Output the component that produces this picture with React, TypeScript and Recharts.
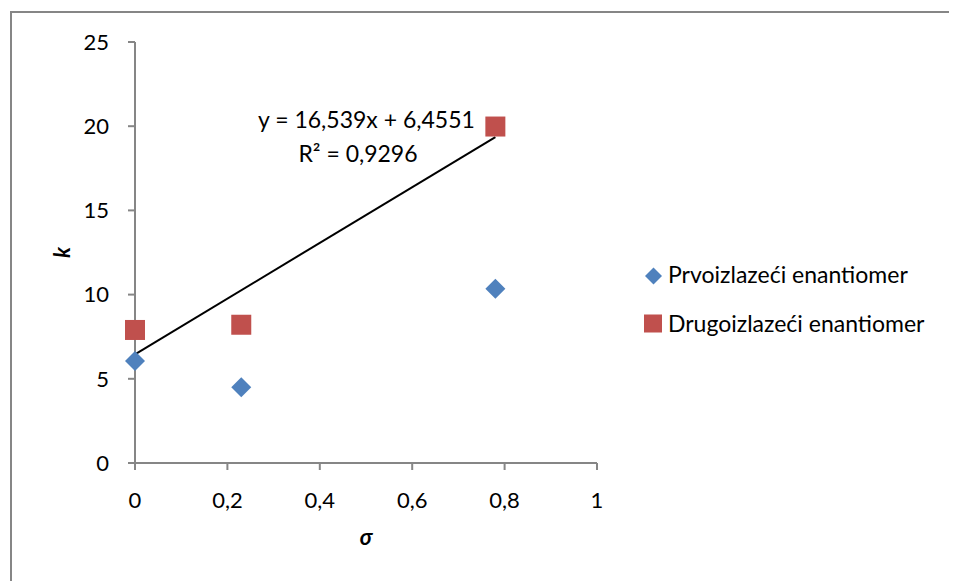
import { ScatterChart, Scatter, XAxis, YAxis, Label } from 'recharts';

const xTicks = [0, 0.2, 0.4, 0.6, 0.8, 1];
const yTicks = [0, 5, 10, 15, 20, 25];

const sigma = [0, 0.23, 0.78];
const firstK = [6.06, 4.5, 10.35];
const secondK = [7.9, 8.21, 19.98];

const slope = 16.539;
const intercept = 6.4551;
const equation = 'y = 16,539x + 6,4551';
const rSquared = 'R² = 0,9296';

const firstName = 'Prvoizlazeći enantiomer';
const secondName = 'Drugoizlazeći enantiomer';

const blue = '#4F81BD';
const red = '#C0504D';
const grey = '#868686';
const font = 'Lato, "Open Sans", sans-serif';

const firstData = sigma.map((x, i) => ({ x, y: firstK[i] }));
const secondData = sigma.map((x, i) => ({ x, y: secondK[i] }));
const trendData = [sigma[0], sigma[sigma.length - 1]].map((x) => ({ x, y: slope * x + intercept }));

const comma = (v: number) => String(v).replace('.', ',');

const Diamond = ({ cx, cy, r = 10 }: any) => (
  <polygon
    points={`${cx},${cy - r} ${cx + r},${cy} ${cx},${cy + r} ${cx - r},${cy}`}
    fill={blue}
  />
);

const Square = ({ cx, cy, r = 10 }: any) => (
  <rect x={cx - r} y={cy - r} width={r * 2} height={r * 2} fill={red} />
);

const labelStyle = { fontFamily: font, fontSize: 22, fontWeight: 700, fontStyle: 'italic', fill: '#000' };

const legendText = {
  position: 'absolute' as const,
  left: 660,
  fontFamily: font,
  fontSize: 23,
  lineHeight: '24px',
  color: '#000',
  whiteSpace: 'nowrap' as const,
};

export default function App() {
  return (
    <div style={{ position: 'relative', width: 949, height: 573, background: '#fff', overflow: 'hidden' }}>
      <div
        style={{
          position: 'absolute',
          left: 2,
          top: 3,
          width: 1000,
          height: 700,
          border: `2px solid ${grey}`,
          boxSizing: 'border-box',
        }}
      />
      <ScatterChart
        width={949}
        height={573}
        margin={{ top: 34, right: 360, bottom: 68, left: 67 }}
        style={{ position: 'absolute', left: 0, top: 0 }}
      >
        <XAxis
          type="number"
          dataKey="x"
          domain={[0, 1]}
          ticks={xTicks}
          tickFormatter={comma}
          stroke={grey}
          strokeWidth={2}
          tickSize={7}
          tickMargin={22}
          height={50}
          tick={{ fill: '#000', fontSize: 22, fontFamily: font }}
        >
          <Label value="σ" position="insideBottom" offset={-32} style={labelStyle} />
        </XAxis>
        <YAxis
          type="number"
          dataKey="y"
          domain={[0, 25]}
          ticks={yTicks}
          stroke={grey}
          strokeWidth={2}
          tickSize={7}
          tickMargin={19}
          width={60}
          tick={{ fill: '#000', fontSize: 22, fontFamily: font }}
        >
          <Label
            value="k"
            angle={-90}
            position="insideLeft"
            offset={-13}
            style={{ ...labelStyle, textAnchor: 'middle' }}
          />
        </YAxis>
        <Scatter
          name="trend"
          data={trendData}
          line={{ stroke: '#000', strokeWidth: 2 }}
          shape={() => null}
          legendType="none"
          isAnimationActive={false}
        />
        <Scatter name={firstName} data={firstData} shape={<Diamond />} isAnimationActive={false} />
        <Scatter name={secondName} data={secondData} shape={<Square />} isAnimationActive={false} />
      </ScatterChart>

      <svg width={30} height={80} style={{ position: 'absolute', left: 630, top: 255 }}>
        <Diamond cx={15.5} cy={13} r={8.5} />
        <Square cx={15} cy={60.5} r={9} />
      </svg>
      <div style={{ ...legendText, top: 254 }}>{firstName}</div>
      <div style={{ ...legendText, top: 303 }}>{secondName}</div>

      <div
        style={{
          position: 'absolute',
          left: 250,
          top: 94,
          width: 200,
          textAlign: 'center',
          fontFamily: font,
          fontSize: 23,
          lineHeight: '34px',
          color: '#000',
          whiteSpace: 'nowrap',
        }}
      >
        <div>{equation}</div>
        <div>{rSquared}</div>
      </div>
    </div>
  );
}
